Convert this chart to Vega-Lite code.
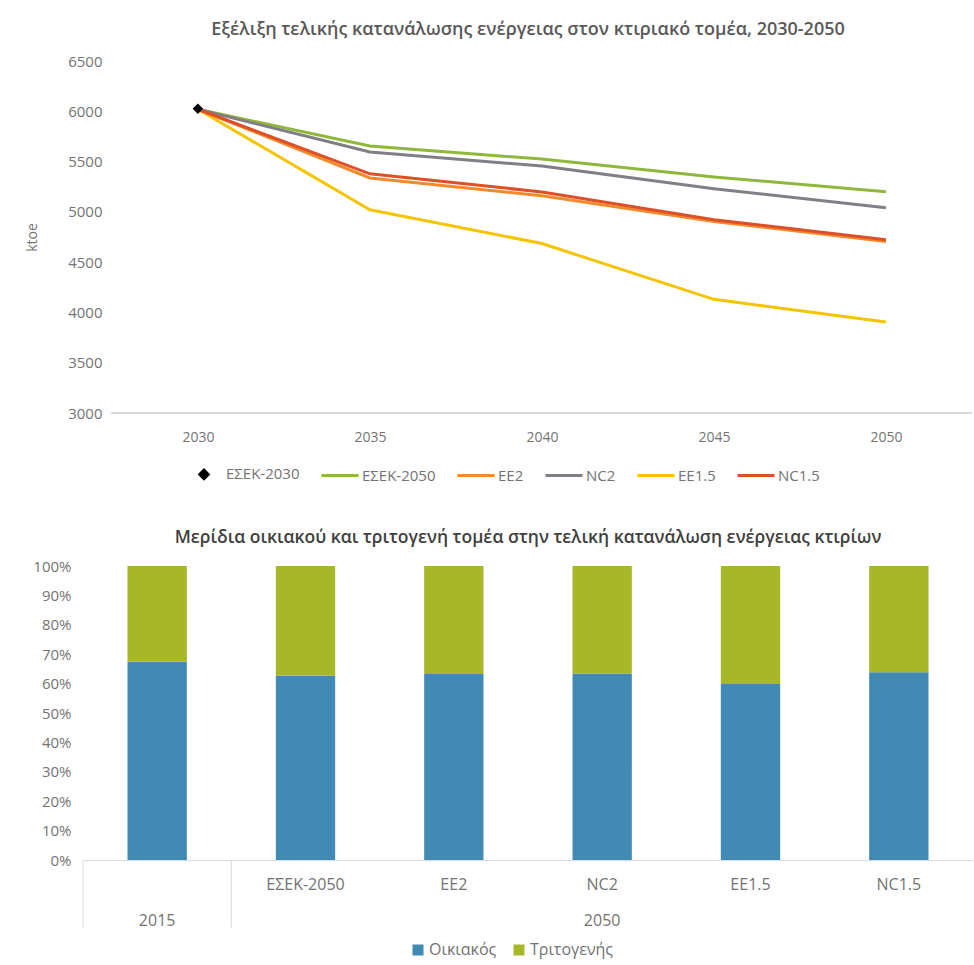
{
  "$schema": "https://vega.github.io/schema/vega-lite/v6.json",
  "background": "white",
  "padding": {"left": 25, "top": 21, "right": 0, "bottom": 10},
  "spacing": 43,
  "config": {
    "font": "Open Sans",
    "view": {"stroke": null},
    "axis": {"labelColor": "#737373", "titleColor": "#737373", "labelFontSize": 14},
    "legend": {"labelColor": "#737373", "labelFontSize": 15},
    "title": {"color": "#595959"}
  },
  "resolve": {"legend": {"color": "independent"}, "scale": {"color": "independent"}},
  "vconcat": [
    {
      "title": {"text": "Εξέλιξη τελικής κατανάλωσης ενέργειας στον κτιριακό τομέα, 2030-2050", "fontSize": 18, "fontWeight": 600, "offset": 15},
      "width": 890,
      "height": 352,
      "data": {
        "values": [
          {"series": "ΕΣΕΚ-2050", "year": 2030, "ktoe": 6020},
          {"series": "ΕΣΕΚ-2050", "year": 2035, "ktoe": 5655},
          {"series": "ΕΣΕΚ-2050", "year": 2040, "ktoe": 5525},
          {"series": "ΕΣΕΚ-2050", "year": 2045, "ktoe": 5347},
          {"series": "ΕΣΕΚ-2050", "year": 2050, "ktoe": 5200},
          {"series": "NC2", "year": 2030, "ktoe": 6020},
          {"series": "NC2", "year": 2035, "ktoe": 5595},
          {"series": "NC2", "year": 2040, "ktoe": 5455},
          {"series": "NC2", "year": 2045, "ktoe": 5230},
          {"series": "NC2", "year": 2050, "ktoe": 5040},
          {"series": "EE1.5", "year": 2030, "ktoe": 6020},
          {"series": "EE1.5", "year": 2035, "ktoe": 5020},
          {"series": "EE1.5", "year": 2040, "ktoe": 4685},
          {"series": "EE1.5", "year": 2045, "ktoe": 4130},
          {"series": "EE1.5", "year": 2050, "ktoe": 3905},
          {"series": "EE2", "year": 2030, "ktoe": 6020},
          {"series": "EE2", "year": 2035, "ktoe": 5337},
          {"series": "EE2", "year": 2040, "ktoe": 5160},
          {"series": "EE2", "year": 2045, "ktoe": 4905},
          {"series": "EE2", "year": 2050, "ktoe": 4705},
          {"series": "NC1.5", "year": 2030, "ktoe": 6020},
          {"series": "NC1.5", "year": 2035, "ktoe": 5378},
          {"series": "NC1.5", "year": 2040, "ktoe": 5198},
          {"series": "NC1.5", "year": 2045, "ktoe": 4922},
          {"series": "NC1.5", "year": 2050, "ktoe": 4722},
          {"series": "ΕΣΕΚ-2030", "year": 2030, "ktoe": 6025}
        ]
      },
      "encoding": {
        "x": {
          "field": "year", "type": "quantitative",
          "scale": {"domain": [2026.66, 2052.53], "nice": false, "zero": false},
          "axis": {"values": [2030, 2035, 2040, 2045, 2050], "format": "d", "title": null, "domain": false, "ticks": false, "grid": false, "labelPadding": 17}
        },
        "y": {
          "field": "ktoe", "type": "quantitative",
          "scale": {"domain": [3000, 6500], "nice": false, "zero": false},
          "axis": {"values": [3000, 3500, 4000, 4500, 5000, 5500, 6000, 6500], "format": "d", "title": "ktoe", "grid": false, "domain": false, "ticks": false, "offset": -29, "labelPadding": 10, "titlePadding": 28, "titleFontWeight": "normal", "titleFontSize": 14, "labelFontSize": 15}
        },
        "color": {
          "field": "series", "type": "nominal",
          "scale": {
            "domain": ["ΕΣΕΚ-2030", "ΕΣΕΚ-2050", "EE2", "NC2", "EE1.5", "NC1.5"],
            "range": ["#000000", "#8fb83a", "#f28a2c", "#7f7f85", "#f5c400", "#dd4f26"]
          },
          "legend": {
            "orient": "none", "legendX": 101, "legendY": 393, "direction": "horizontal", "title": null,
            "symbolType": "stroke", "symbolSize": 1369, "symbolStrokeWidth": 3,
            "columnPadding": 15, "labelOffset": 2, "labelFontSize": 15,
            "encode": {
              "symbols": {
                "update": {
                  "shape": {"signal": "datum.value === 'ΕΣΕΚ-2030' ? 'diamond' : 'stroke'"},
                  "size": {"signal": "datum.value === 'ΕΣΕΚ-2030' ? 70 : 1369"},
                  "fill": {"signal": "datum.value === 'ΕΣΕΚ-2030' ? '#000000' : 'transparent'"}
                }
              }
            }
          }
        }
      },
      "layer": [
        {
          "mark": {"type": "rule", "color": "#d9d9d9", "strokeWidth": 1},
          "encoding": {
            "x": {"datum": 2027.5, "type": "quantitative"},
            "x2": {"datum": 2052.5},
            "y": {"datum": 3000, "type": "quantitative"},
            "color": null
          }
        },
        {
          "transform": [{"filter": "datum.series !== 'ΕΣΕΚ-2030'"}],
          "mark": {"type": "line", "strokeWidth": 3}
        },
        {
          "transform": [{"filter": "datum.series === 'ΕΣΕΚ-2030'"}],
          "mark": {"type": "point", "shape": "diamond", "filled": true, "size": 110, "opacity": 1}
        }
      ]
    },
    {
      "title": {"text": "Μερίδια οικιακού και τριτογενή τομέα στην τελική κατανάλωση ενέργειας κτιρίων", "fontSize": 17.5, "fontWeight": 600, "offset": 13, "color": "#404040"},
      "width": 890,
      "height": 294,
      "layer": [
        {
          "data": {
            "values": [
              {"scenario": "2015", "sector": "Οικιακός", "share": 67.4},
              {"scenario": "2015", "sector": "Τριτογενής", "share": 32.6},
              {"scenario": "ΕΣΕΚ-2050", "sector": "Οικιακός", "share": 62.7},
              {"scenario": "ΕΣΕΚ-2050", "sector": "Τριτογενής", "share": 37.3},
              {"scenario": "EE2", "sector": "Οικιακός", "share": 63.3},
              {"scenario": "EE2", "sector": "Τριτογενής", "share": 36.7},
              {"scenario": "NC2", "sector": "Οικιακός", "share": 63.4},
              {"scenario": "NC2", "sector": "Τριτογενής", "share": 36.6},
              {"scenario": "EE1.5", "sector": "Οικιακός", "share": 59.9},
              {"scenario": "EE1.5", "sector": "Τριτογενής", "share": 40.1},
              {"scenario": "NC1.5", "sector": "Οικιακός", "share": 63.9},
              {"scenario": "NC1.5", "sector": "Τριτογενής", "share": 36.1}
            ]
          },
          "mark": {"type": "bar"},
          "encoding": {
            "x": {
              "field": "scenario", "type": "nominal", "sort": null,
              "scale": {"paddingInner": 0.6, "paddingOuter": 0.3},
              "axis": {
                "title": null, "labelAngle": 0, "ticks": false, "domainColor": "#d9d9d9",
                "labelExpr": "datum.value === '2015' ? ['', '2015'] : datum.value === 'NC2' ? ['NC2', '2050'] : datum.value",
                "labelLineHeight": 36, "labelPadding": 16, "labelOverlap": false, "labelFontSize": 16
              }
            },
            "y": {
              "field": "share", "type": "quantitative", "stack": "normalize",
              "scale": {"domain": [0, 1]},
              "axis": {"format": ".0%", "values": [0, 0.1, 0.2, 0.3, 0.4, 0.5, 0.6, 0.7, 0.8, 0.9, 1], "labelOverlap": false, "grid": false, "domain": false, "ticks": false, "title": null, "labelFontSize": 15, "labelPadding": 12}
            },
            "color": {
              "field": "sector", "type": "nominal",
              "scale": {"domain": ["Οικιακός", "Τριτογενής"], "range": ["#418ab3", "#a6b727"]},
              "legend": {"orient": "none", "legendX": 327, "legendY": 376, "direction": "horizontal", "title": null, "symbolType": "square", "symbolSize": 121, "labelFontSize": 16, "labelOffset": 3, "columnPadding": 14}
            },
            "order": {"field": "sector", "sort": "ascending"}
          }
        },
        {
          "data": {"values": [{"scenario": "2015"}, {"scenario": "ΕΣΕΚ-2050"}]},
          "mark": {"type": "rule", "color": "#d9d9d9", "strokeWidth": 1},
          "encoding": {
            "x": {"field": "scenario", "type": "nominal", "sort": null, "bandPosition": -0.75},
            "y": {
              "datum": 0, "type": "quantitative",
              "axis": {"format": ".0%", "values": [0, 0.1, 0.2, 0.3, 0.4, 0.5, 0.6, 0.7, 0.8, 0.9, 1], "labelOverlap": false, "grid": false, "domain": false, "ticks": false, "title": null, "labelFontSize": 15, "labelPadding": 12}
            },
            "y2": {"datum": -0.23}
          }
        }
      ]
    }
  ]
}
